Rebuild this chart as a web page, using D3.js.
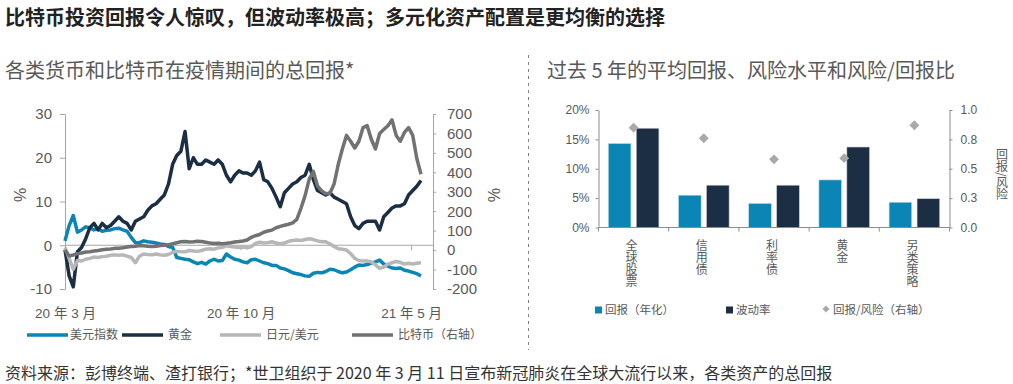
<!DOCTYPE html>
<html>
<head>
<meta charset="utf-8">
<script src="https://cdn.jsdelivr.net/npm/d3@7"></script>
<style>
    body { margin: 0; background: #fff; }
    text { font-family: "Liberation Sans", "Noto Sans CJK SC", sans-serif; }
    .cjk { font-family: "Noto Sans CJK SC", sans-serif; }
</style>
</head>
<body>
<svg id="chart" width="1013" height="384"></svg>
<script>
// ---- left chart data (total return since 11 Mar 2020, 5-day steps) ----
var startDay = '2020-03-11';
var usdIndex = [1, 4.5, 6.8, 3, 3.5, 4.2, 4, 3.5, 3.8, 3.2,
    3.4, 3.5, 3.8, 3.9, 3.5, 3.2, 1.8, 0.6, 0.6, 1,
    0.8, 0.7, 0.5, 0.3, 0.2, -0.3, -0.5, -2.8, -3, -3.2,
    -3.3, -3.8, -4.2, -3.9, -4.3, -3.6, -3.2, -3.6, -3.5, -2,
    -2.7, -3.2, -3.4, -3.8, -4, -3.3, -3.2, -3.6, -4, -4.2,
    -4.6, -4.6, -5.2, -5.4, -5.8, -6.3, -6.5, -6.7, -7, -7.1,
    -6.4, -6.2, -6.3, -6, -5.5, -5.6, -6, -6.3, -6.1, -5.6,
    -5, -4.5, -4.6, -4.4, -4.1, -3.8, -3.4, -4.3, -4.8, -5.2,
    -5.3, -5.2, -5.7, -5.9, -6.2, -6.5, -7];
var gold = [-1, -7, -9.5, -1.5, -0.5, 1.5, 4, 5, 3.5, 5,
    4, 4.5, 5.5, 6.5, 5.5, 5, 3.5, 5.5, 6, 6.5,
    8, 9, 9.5, 10.5, 11.5, 14, 18.5, 20.5, 21.5, 26,
    17.5, 20, 18.5, 18.5, 19.5, 19, 18.5, 19.5, 18.5, 16,
    14.5, 16, 17, 16.5, 16.5, 16, 17, 19, 15, 14.5,
    13, 11, 8.8, 12, 13, 14, 14.5, 15.5, 16, 18.5,
    15, 12.5, 12, 11.5, 12, 11, 10.5, 10, 9.5, 6.5,
    4.5, 3.8, 5, 5.5, 5.5, 5.5, 3.5, 6.5, 7.5, 8.5,
    9, 9, 9.5, 11.5, 12.5, 13.5, 14.8];
var jpyUsd = [-0.5, -3, -5.5, -3.5, -3.6, -3.2, -3, -2.7, -2.8, -2.6,
    -2.5, -2.3, -2.2, -2.3, -2.2, -2.5, -2.8, -4, -2.5, -2,
    -2.1, -2.2, -2, -2.2, -2.3, -2.1, -1.6, -1.4, -1.5, -1.5,
    -1.2, -1.3, -1.4, -1.2, -0.9, -0.8, -0.9, -0.6, -0.5, -0.1,
    -0.3, -0.4, -0.5, -0.4, -0.6, -0.3, 0.4, 0.7, 0.5, 0.6,
    0.8, 0.5, 0.3, 0.5, 0.9, 1.1, 1.2, 1.1, 1.3, 1.5,
    1.3, 1, 0.8, 0.8, 0.3, -0.3, -0.8, -0.9, -1.1, -1.9,
    -3, -3.5, -3.6, -3.6, -3.8, -4.5, -5.3, -5, -4.3, -4,
    -3.7, -3.9, -4.3, -4.1, -4.3, -4.1, -4];
var bitcoin = [0, -30, -25, -18, -15, -10, -8, -5, -2, 2,
    4, 6, 9, 10, 12, 16, 18, 20, 24, 22,
    20, 19, 20, 24, 25, 27, 33, 38, 43, 44,
    42, 43, 45, 44, 40, 36, 34, 35, 33, 35,
    38, 42, 44, 47, 52, 66, 74, 80, 92, 98,
    103, 115, 122, 128, 133, 140, 158, 215, 280, 365,
    405, 330, 305, 290, 292, 340, 440, 520, 590, 560,
    525, 560, 630, 640, 570, 520, 600, 620, 640, 670,
    590, 560, 605, 630, 590, 470, 390];
var leftTicks = [-10, 0, 10, 20, 30];
var rightTicks = [-200, -100, 0, 100, 200, 300, 400, 500, 600, 700];
var xTickDates = ['2020-03-11', '2020-10-09', '2021-05-03'];
var xTickLabels = ['20 年 3 月', '20 年 10 月', '21 年 5 月'];
var seriesNames = ['美元指数', '黄金', '日元/美元', '比特币（右轴）'];

// ---- right chart data ----
var assetCats = ['全球股票', '信用债', '利率债', '黄金', '另类策略'];
var annualReturn = [14.3, 5.5, 4.1, 8.1, 4.3];
var volatility = [16.9, 7.2, 7.2, 13.7, 4.9];
var returnRisk = [0.85, 0.76, 0.58, 0.59, 0.87];
var pctTicks = [0, 5, 10, 15, 20];
var ratioTicks = [0, 0.25, 0.5, 0.75, 1];
var ratioTickLabels = ['0.0', '0.3', '0.5', '0.8', '1.0'];
var barLegend = ['回报（年化）', '波动率', '回报/风险（右轴）'];

var teal = '#0a85b4', navy = '#1b2e44', lightGrey = '#b7b7b7', darkGrey = '#727272';
var axisGrey = '#a6a6a6', textGrey = '#595959';

var svg = d3.select('#chart');
var parse = d3.timeParse('%Y-%m-%d');
var t0 = parse(startDay);
var dates = usdIndex.map(function(d, i) { return d3.timeDay.offset(t0, i * 5); });

// titles
svg.append('text').attr('class', 'cjk').attr('x', 5).attr('y', 25)
    .attr('font-size', 20).attr('font-weight', 'bold').attr('fill', '#222')
    .text('比特币投资回报令人惊叹，但波动率极高；多元化资产配置是更均衡的选择');
svg.append('text').attr('class', 'cjk').attr('x', 5).attr('y', 78)
    .attr('font-size', 20).attr('fill', textGrey)
    .text('各类货币和比特币在疫情期间的总回报*');
svg.append('text').attr('class', 'cjk').attr('x', 547).attr('y', 78)
    .attr('font-size', 20).attr('fill', textGrey)
    .text('过去 5 年的平均回报、风险水平和风险/回报比');
svg.append('text').attr('class', 'cjk').attr('x', 5).attr('y', 379)
    .attr('font-size', 16).attr('fill', '#333')
    .text('资料来源：彭博终端、渣打银行；*世卫组织于 2020 年 3 月 11 日宣布新冠肺炎在全球大流行以来，各类资产的总回报');

// divider
svg.append('line').attr('x1', 528.5).attr('x2', 528.5).attr('y1', 55).attr('y2', 350)
    .attr('stroke', '#808080').attr('stroke-dasharray', '3,4');

// ================= left chart =================
var plotL = 65, plotR = 433, plotT = 114, plotB = 289;
var x = d3.scaleTime().domain([dates[0], dates[dates.length - 1]]).range([plotL, 421]);
var yL = d3.scaleLinear().domain([-10, 30]).range([plotB, plotT]);
var yR = d3.scaleLinear().domain([-200, 700]).range([plotB, plotT]);

function styleAxis(g, size) {
    g.selectAll('path,line').attr('stroke', axisGrey);
    g.selectAll('text').attr('fill', textGrey).attr('font-size', size)
        .attr('font-family', '"Liberation Sans", "Noto Sans CJK SC", sans-serif');
}

svg.append('g').attr('transform', 'translate(' + plotL + ',0)')
    .call(d3.axisLeft(yL).tickValues(leftTicks).tickSize(5).tickSizeOuter(0).tickPadding(8)
        .tickFormat(function(d) { return String(d); }))
    .call(styleAxis, 15);

svg.append('g').attr('transform', 'translate(' + plotR + ',0)')
    .call(d3.axisRight(yR).tickValues(rightTicks).tickSize(3).tickSizeOuter(0).tickPadding(11)
        .tickFormat(function(d) { return String(d); }))
    .call(styleAxis, 15);

// zero line
svg.append('line').attr('x1', plotL).attr('x2', plotR)
    .attr('y1', yL(0)).attr('y2', yL(0)).attr('stroke', axisGrey);

var xAxis = svg.append('g').attr('transform', 'translate(0,' + yL(0) + ')')
    .call(d3.axisBottom(x).tickValues(xTickDates.map(parse)).tickSize(5).tickSizeOuter(0)
        .tickFormat(function(d, i) { return xTickLabels[i]; }))
    .call(styleAxis, 14);
xAxis.select('.domain').remove();
xAxis.selectAll('text').attr('y', 68).attr('dy', '0.35em').attr('font-size', 13.5);

svg.append('text').attr('transform', 'translate(20,195) rotate(-90)')
    .attr('text-anchor', 'middle').attr('dy', '0.35em')
    .attr('font-size', 16).attr('fill', textGrey).text('%');
svg.append('text').attr('transform', 'translate(494,195) rotate(90)')
    .attr('text-anchor', 'middle').attr('dy', '0.35em')
    .attr('font-size', 16).attr('fill', textGrey).text('%');

var lineL = d3.line().x(function(d, i) { return x(dates[i]); }).y(function(d) { return yL(d); });
var lineR = d3.line().x(function(d, i) { return x(dates[i]); }).y(function(d) { return yR(d); });

var series = [
    { data: usdIndex, color: teal, line: lineL },
    { data: gold, color: navy, line: lineL },
    { data: jpyUsd, color: lightGrey, line: lineL },
    { data: bitcoin, color: darkGrey, line: lineR }
];
svg.append('g').selectAll('path').data(series).join('path')
    .attr('d', function(s) { return s.line(s.data); })
    .attr('fill', 'none').attr('stroke', function(s) { return s.color; })
    .attr('stroke-width', 3.5).attr('stroke-linejoin', 'round');

// left legend
var legX = [27, 122, 220, 352];
var legend = svg.append('g').selectAll('g').data(series).join('g')
    .attr('transform', function(s, i) { return 'translate(' + legX[i] + ',335)'; });
legend.append('line').attr('x1', 0).attr('x2', 41)
    .attr('stroke', function(s) { return s.color; }).attr('stroke-width', 3.5);
legend.append('text').attr('class', 'cjk').attr('x', function(s, i) { return i == 0 ? 43 : 46; })
    .attr('dy', '0.35em').attr('font-size', 12).attr('fill', textGrey)
    .text(function(s, i) { return seriesNames[i]; });

// ================= right chart =================
var bL = 598.5, bR = 949.5, bT = 110, bB = 227.5;
var xb = d3.scaleBand().domain(assetCats).range([bL, bR]);
var xs = d3.scaleBand().domain(['ret', 'vol']).range([0, xb.bandwidth()])
    .paddingInner(0.19).paddingOuter(0.35);
var yP = d3.scaleLinear().domain([0, 20]).range([bB, bT]);
var yQ = d3.scaleLinear().domain([0, 1]).range([bB, bT]);

svg.append('g').attr('transform', 'translate(' + bL + ',0)')
    .call(d3.axisLeft(yP).tickValues(pctTicks).tickSize(3).tickSizeOuter(0).tickPadding(6)
        .tickFormat(function(d) { return d + '%'; }))
    .call(styleAxis, 12)
    .selectAll('path,line').attr('stroke', '#8c8c8c');

svg.append('g').attr('transform', 'translate(' + bR + ',0)')
    .call(d3.axisRight(yQ).tickValues(ratioTicks).tickSize(3).tickSizeOuter(0).tickPadding(8)
        .tickFormat(function(d, i) { return ratioTickLabels[i]; }))
    .call(styleAxis, 12)
    .selectAll('path,line').attr('stroke', '#8c8c8c');

var groups = svg.append('g').selectAll('g').data(assetCats).join('g')
    .attr('transform', function(c) { return 'translate(' + xb(c) + ',0)'; });
groups.append('rect')
    .attr('x', xs('ret')).attr('width', xs.bandwidth())
    .attr('y', function(c, i) { return yP(annualReturn[i]); })
    .attr('height', function(c, i) { return yP(0) - yP(annualReturn[i]); })
    .attr('fill', teal).attr('stroke', '#bfe0ee').attr('stroke-width', 0.6);
groups.append('rect')
    .attr('x', xs('vol')).attr('width', xs.bandwidth())
    .attr('y', function(c, i) { return yP(volatility[i]); })
    .attr('height', function(c, i) { return yP(0) - yP(volatility[i]); })
    .attr('fill', navy).attr('stroke', '#c8cdd4').attr('stroke-width', 0.6);
groups.append('rect')
    .attr('width', 7).attr('height', 7)
    .attr('transform', function(c, i) {
        return 'translate(' + xb.bandwidth() / 2 + ',' + yQ(returnRisk[i]) + ') rotate(45) translate(-3.5,-3.5)';
    })
    .attr('fill', '#a9a9a9');

// category axis
svg.append('line').attr('x1', bL).attr('x2', bR).attr('y1', bB).attr('y2', bB)
    .attr('stroke', '#8c8c8c').attr('stroke-width', 1.2);
svg.append('g').selectAll('line').data(assetCats.concat(['end'])).join('line')
    .attr('x1', function(c) { return c == 'end' ? bR : xb(c); })
    .attr('x2', function(c) { return c == 'end' ? bR : xb(c); })
    .attr('y1', bB).attr('y2', bB + 4).attr('stroke', '#8c8c8c');
svg.append('g').selectAll('text').data(assetCats).join('text')
    .attr('class', 'cjk')
    .attr('x', function(c) { return xb(c) + xb.bandwidth() / 2 - 2; })
    .attr('y', 239)
    .style('writing-mode', 'vertical-rl')
    .attr('font-size', 12).attr('fill', textGrey)
    .text(function(c) { return c; });

svg.append('text').attr('class', 'cjk').attr('x', 1002).attr('y', 148)
    .style('writing-mode', 'vertical-rl')
    .attr('font-size', 12).attr('fill', textGrey).text('回报/风险');

// right legend
var bLeg = svg.append('g').attr('transform', 'translate(0,310)');
bLeg.append('rect').attr('x', 595).attr('y', -3.5).attr('width', 7).attr('height', 7).attr('fill', teal);
bLeg.append('rect').attr('x', 726).attr('y', -3.5).attr('width', 7).attr('height', 7).attr('fill', navy);
bLeg.append('rect').attr('width', 5).attr('height', 5)
    .attr('transform', 'translate(826,-1) rotate(45) translate(-2.5,-2.5)').attr('fill', '#a9a9a9');
bLeg.selectAll('text').data(barLegend).join('text')
    .attr('class', 'cjk')
    .attr('x', function(d, i) { return [605, 736, 833][i]; })
    .attr('dy', '0.35em').attr('font-size', 11.5).attr('fill', textGrey)
    .text(function(d) { return d; });
</script>
</body>
</html>
